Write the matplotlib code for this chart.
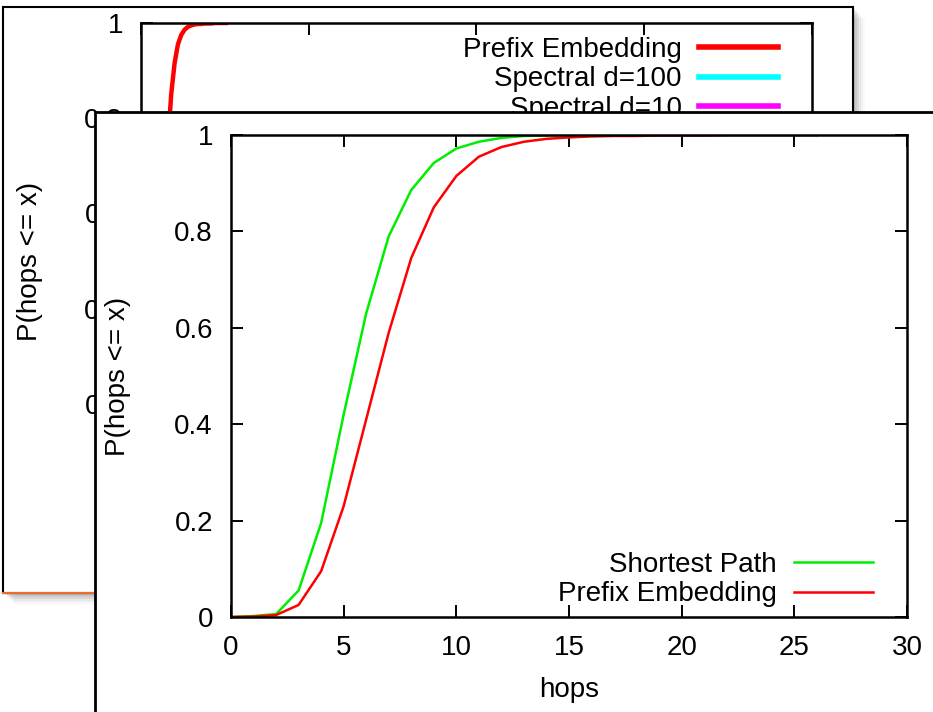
import matplotlib
matplotlib.use("Agg")
import matplotlib.pyplot as plt
from matplotlib.patches import Rectangle
from matplotlib.lines import Line2D
from matplotlib.ticker import FuncFormatter

plt.rcParams['font.family'] = ['Liberation Sans', 'DejaVu Sans']

# ---- data ----
hops = list(range(0, 27))
shortest_path = [0, 0.002, 0.006, 0.055, 0.195, 0.42, 0.63, 0.79, 0.886, 0.942,
                 0.972, 0.986, 0.994, 0.998, 0.999, 1, 1, 1, 1, 1,
                 1, 1, 1, 1, 1, 1, 1]
prefix_embedding = [0, 0.001, 0.004, 0.025, 0.095, 0.23, 0.41, 0.59, 0.745, 0.85,
                    0.915, 0.955, 0.975, 0.986, 0.992, 0.995, 0.997, 0.998, 0.998, 0.999,
                    0.999, 0.999, 1, 1, 1, 1, 1]
front_xticks = [0, 5, 10, 15, 20, 25, 30]
back_xticks = [0, 50, 100, 150, 200]
yticks = [0, 0.2, 0.4, 0.6, 0.8, 1.0]
back_legend = ["Prefix Embedding", "Spectral d=100", "Spectral d=10"]
back_legend_colors = ["#ff0000", "#00ffff", "#ff00ff"]

W, H = 933, 712
fig = plt.figure(figsize=(W / 100, H / 100), dpi=100)
fig.patch.set_facecolor('white')

def fx(x):
    return x / W

def fy(y):
    return 1 - y / H

FS = 20
fmt = FuncFormatter(lambda v, p: "%g" % v)

# ---- back window with shadow ----
for i, a in enumerate([0.10, 0.08, 0.06, 0.045, 0.03, 0.02]):
    off = 2 + i * 2
    fig.add_artist(Rectangle((fx(3 + off), fy(593 + off)), 850 / W, 586 / H,
                             transform=fig.transFigure, fc='black', ec='none',
                             alpha=a, zorder=-3))
fig.add_artist(Rectangle((fx(3), fy(593)), 850 / W, 586 / H, transform=fig.transFigure,
                         fc='white', ec='black', lw=1.5, zorder=-2))
fig.add_artist(Line2D([fx(3), fx(853)], [fy(593), fy(593)], transform=fig.transFigure,
                      color='#f06a2a', lw=1.5, zorder=-1))

def style(ax):
    ax.tick_params(direction='in', top=True, right=True, length=8.5, width=1.4,
                   labelsize=FS, pad=13, colors='black')
    for s in ax.spines.values():
        s.set_linewidth(1.8)
    ax.yaxis.set_major_formatter(fmt)
    ax.xaxis.set_major_formatter(fmt)

# ---- back axes ----
axb = fig.add_axes([fx(141), fy(499), 671 / W, 476 / H])
axb.set_zorder(0)
axb.set_facecolor('none')
axb.plot(hops, prefix_embedding, color='#ff0000', lw=3.2, solid_capstyle='butt')
axb.set_xlim(0, 200)
axb.set_ylim(0, 1)
axb.set_xticks(back_xticks)
axb.set_yticks(yticks)
style(axb)
axb.set_ylabel("P(hops <= x)", fontsize=FS)
axb.yaxis.set_label_coords((30 - 141) / 671, 0.5)
axb.yaxis.label.set_va('center')
handles = [Line2D([], [], color=c, lw=4) for c in back_legend_colors]
axb.legend(handles, back_legend, loc='upper right', bbox_to_anchor=(fx(778), fy(37)),
           bbox_transform=fig.transFigure, frameon=False, markerfirst=False,
           fontsize=FS, borderpad=0, borderaxespad=0, handlelength=2.85,
           handletextpad=0.62, labelspacing=0.12)

# ---- front window ----
fig.add_artist(Rectangle((fx(95), fy(760)), (990 - 95) / W, (760 - 112) / H,
                         transform=fig.transFigure, fc='white', ec='black', lw=2,
                         zorder=1))

# ---- front axes ----
axf = fig.add_axes([fx(231), fy(617), 676 / W, 482 / H])
axf.set_zorder(2)
axf.set_facecolor('white')
axf.plot(hops, shortest_path, color='#00ee00', lw=1.8, label="Shortest Path")
axf.plot(hops, prefix_embedding, color='#ff0000', lw=1.8, label="Prefix Embedding")
axf.set_xlim(0, 30)
axf.set_ylim(0, 1)
axf.set_xticks(front_xticks)
axf.set_yticks(yticks)
style(axf)
axf.set_ylabel("P(hops <= x)", fontsize=FS)
axf.yaxis.set_label_coords((118 - 231) / 676, 0.5)
axf.yaxis.label.set_va('center')
axf.set_xlabel("hops", fontsize=FS)
axf.xaxis.set_label_coords((569 - 231) / 676, (617 - 690) / 482)
axf.xaxis.label.set_va('center')
axf.legend(loc='upper right', bbox_to_anchor=(fx(873), fy(552)),
           bbox_transform=fig.transFigure, frameon=False, markerfirst=False,
           fontsize=FS, borderpad=0, borderaxespad=0, handlelength=2.85,
           handletextpad=0.62, labelspacing=0.12)

fig.savefig("out.png", dpi=100)
